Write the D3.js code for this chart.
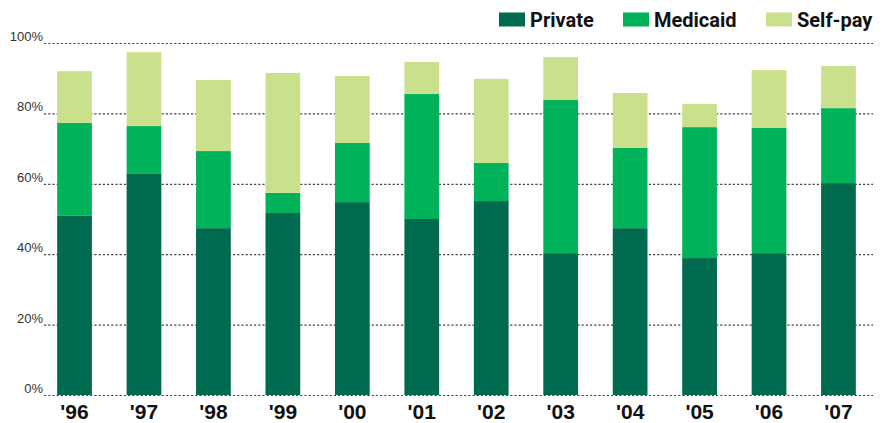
<!DOCTYPE html>
<html><head><meta charset="utf-8">
<script src="https://cdn.jsdelivr.net/npm/d3@7"></script>
<style>body{margin:0;background:#fff}svg{display:block}</style>
</head><body>
<svg id="chart" width="887" height="423"></svg>
<script>
const years = ["'96","'97","'98","'99","'00","'01","'02","'03","'04","'05","'06","'07"];
const privateVals  = [50.9, 62.8, 47.4, 51.7, 54.8, 50.0, 55.1, 40.3, 47.4, 38.9, 40.3, 60.2];
const medicaidVals = [26.4, 13.6, 21.9,  5.7, 16.8, 35.5, 10.8, 43.5, 22.8, 37.2, 35.6, 21.3];
const selfpayVals  = [14.7, 21.0, 20.2, 34.1, 19.0,  9.1, 23.9, 12.2, 15.6,  6.6, 16.4, 12.0];
const seriesNames = ["Private","Medicaid","Self-pay"];
const colors = ["#006a4e","#00b259","#cbe08c"];
const yTicks = [0,20,40,60,80,100];

const svg = d3.select("#chart");
const table = years.map((y,i)=>({year:y, "Private":privateVals[i], "Medicaid":medicaidVals[i], "Self-pay":selfpayVals[i]}));
const stack = d3.stack().keys(seriesNames)(table);

const x = d3.scaleBand().domain(years).range([39.8, 873.2]).paddingInner(0.5).paddingOuter(0.25);
const y = d3.scaleLinear().domain([0,100]).range([395,43]);

// gridlines
svg.append("g").selectAll("line").data(yTicks).join("line")
  .attr("x1",44).attr("x2",873)
  .attr("y1",d=>y(d)+0.5).attr("y2",d=>y(d)+0.5)
  .attr("stroke","#444").attr("stroke-width",1.2).attr("stroke-dasharray","2.2,2");

// bars
svg.append("g").selectAll("g").data(stack).join("g")
  .attr("fill",(d,i)=>colors[i])
  .selectAll("rect").data(d=>d).join("rect")
  .attr("x",d=>x(d.data.year))
  .attr("width",x.bandwidth())
  .attr("y",d=>y(d[1]))
  .attr("height",d=>y(d[0])-y(d[1]));

// y labels
svg.append("g").selectAll("text").data(yTicks).join("text")
  .attr("x",43).attr("y",d=>y(d)-2)
  .attr("text-anchor","end")
  .attr("font-family","'Liberation Sans', Arial, sans-serif")
  .attr("font-size",13).attr("fill","#333")
  .text(d=>d+"%");

// x axis labels
const xAxis = d3.axisBottom(x).tickSize(0).tickPadding(0);
const xg = svg.append("g").attr("transform","translate(0,404)").call(xAxis);
xg.select(".domain").remove();
xg.selectAll("text")
  .attr("dy","0.71em")
  .attr("font-family","'Liberation Sans', Arial, sans-serif")
  .attr("font-weight","bold").attr("font-size",21).attr("fill","#111");

// legend
const legendX = [499, 623, 766];
const lg = svg.append("g").selectAll("g").data(seriesNames).join("g")
  .attr("transform",(d,i)=>`translate(${legendX[i]},12.5)`);
lg.append("rect").attr("width",26).attr("height",14).attr("fill",(d,i)=>colors[i]);
lg.append("text").attr("x",31).attr("y",14.5)
  .attr("font-family","Roboto, 'Liberation Sans', sans-serif")
  .attr("font-weight","bold").attr("font-size",20).attr("fill","#111")
  .text(d=>d);
</script>
</body></html>
